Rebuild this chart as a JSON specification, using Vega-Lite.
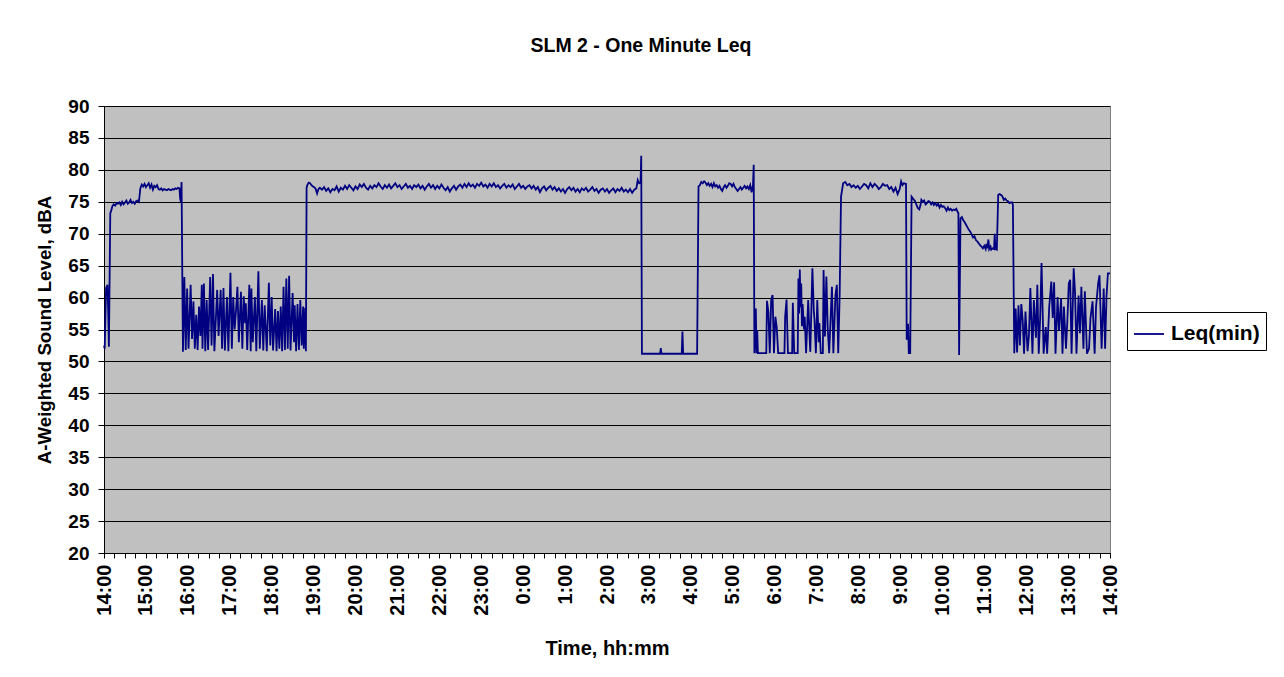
{
  "$schema": "https://vega.github.io/schema/vega-lite/v6.json",
  "width": 1006,
  "height": 447,
  "autosize": {"type": "none"},
  "padding": {"left": 104, "top": 106, "right": 174, "bottom": 124},
  "background": "white",
  "title": {"text": "SLM 2 - One Minute Leq", "font": "Liberation Sans", "fontSize": 19.5, "fontWeight": "bold", "color": "black", "anchor": "middle", "frame": "group", "offset": 41, "dx": 34},
  "config": {"view": {"fill": "#C0C0C0", "stroke": "#808080", "strokeWidth": 1}, "font": "Liberation Sans"},
  "data": {"values": [
    {"min":0,"leq":52.5},{"min":1,"leq":52},{"min":3,"leq":61.5},{"min":5,"leq":62},{"min":6,"leq":58},{"min":7,"leq":52.3},{"min":9,"leq":73.2},
    {"min":10,"leq":73.5},{"min":12,"leq":74.3},{"min":14,"leq":74.6},{"min":16,"leq":74.4},{"min":18,"leq":74.8},{"min":20,"leq":74.7},{"min":22,"leq":74.9},{"min":24,"leq":74.5},{"min":26,"leq":75.0},{"min":28,"leq":74.6},{"min":30,"leq":74.9},{"min":32,"leq":75.2},{"min":34,"leq":74.7},{"min":36,"leq":74.9},{"min":38,"leq":75.3},{"min":40,"leq":74.8},{"min":42,"leq":75.0},{"min":44,"leq":74.7},{"min":46,"leq":75.1},{"min":48,"leq":75.2},{"min":50,"leq":75.0},
    {"min":52,"leq":77.1},{"min":54,"leq":77.7},{"min":56,"leq":77.4},{"min":58,"leq":77.8},{"min":60,"leq":77.3},{"min":62,"leq":77.6},{"min":64,"leq":77.9},{"min":66,"leq":77.2},{"min":68,"leq":77.7},{"min":70,"leq":76.9},{"min":72,"leq":77.5},{"min":74,"leq":77.3},{"min":76,"leq":77.6},{"min":78,"leq":77.0},{"min":80,"leq":76.9},{"min":82,"leq":77.1},{"min":84,"leq":76.8},{"min":86,"leq":77.0},{"min":88,"leq":76.9},{"min":90,"leq":76.8},{"min":92,"leq":77.0},{"min":94,"leq":76.9},{"min":96,"leq":76.8},{"min":98,"leq":77.0},{"min":100,"leq":76.9},{"min":102,"leq":77.1},{"min":104,"leq":77.0},{"min":106,"leq":77.2},{"min":108,"leq":77.1},{"min":109,"leq":75.5},{"min":110,"leq":75.0},{"min":111,"leq":78.1},
    {"min":113,"leq":51.5},{"min":115,"leq":63.2},{"min":117,"leq":51.8},{"min":119,"leq":61.4},{"min":121,"leq":52},{"min":124,"leq":62},{"min":126,"leq":53.5},{"min":128,"leq":59.4},{"min":130,"leq":52},{"min":132,"leq":57.3},{"min":134,"leq":51.8},{"min":136,"leq":58.6},{"min":138,"leq":54},{"min":140,"leq":62},{"min":141,"leq":52},{"min":143,"leq":62.2},{"min":145,"leq":51.6},{"min":147,"leq":59.6},{"min":149,"leq":51.8},{"min":152,"leq":63.2},{"min":154,"leq":52.5},{"min":156,"leq":63.7},{"min":158,"leq":51.6},{"min":162,"leq":61.2},{"min":164,"leq":54},{"min":167,"leq":61.2},{"min":169,"leq":52},{"min":171,"leq":61.5},{"min":173,"leq":51.7},{"min":176,"leq":60.1},{"min":178,"leq":51.6},{"min":181,"leq":63.9},{"min":183,"leq":52},{"min":185,"leq":60.1},{"min":187,"leq":55},{"min":189,"leq":58},{"min":191,"leq":61.7},{"min":193,"leq":53},{"min":196,"leq":60.9},{"min":198,"leq":52},{"min":200,"leq":60.2},{"min":202,"leq":56},{"min":203,"leq":59.1},{"min":205,"leq":51.8},{"min":208,"leq":62},{"min":210,"leq":51.6},{"min":211,"leq":61.4},{"min":213,"leq":53},{"min":216,"leq":60.1},{"min":218,"leq":51.6},{"min":221,"leq":64.1},{"min":223,"leq":52},{"min":226,"leq":59.6},{"min":228,"leq":51.7},{"min":230,"leq":58.8},{"min":233,"leq":51.6},{"min":236,"leq":62.3},{"min":238,"leq":52.5},{"min":240,"leq":60.1},{"min":242,"leq":51.7},{"min":245,"leq":58.2},{"min":247,"leq":51.6},{"min":249,"leq":57.9},{"min":251,"leq":52},{"min":253,"leq":58.6},{"min":255,"leq":51.6},{"min":257,"leq":61.7},{"min":259,"leq":51.8},{"min":261,"leq":63},{"min":263,"leq":52},{"min":265,"leq":63.4},{"min":267,"leq":51.7},{"min":270,"leq":60.7},{"min":272,"leq":53},{"min":273,"leq":58.8},{"min":275,"leq":51.6},{"min":277,"leq":59},{"min":279,"leq":51.8},{"min":281,"leq":59.6},{"min":283,"leq":52.5},{"min":285,"leq":58.6},{"min":286,"leq":52},{"min":288,"leq":58.4},{"min":289,"leq":51.6},
    {"min":290,"leq":77.2},{"min":291,"leq":77.6},{"min":293,"leq":78.0},{"min":295,"leq":77.9},{"min":297,"leq":77.6},{"min":299,"leq":77.4},{"min":301,"leq":77.3},{"min":303,"leq":77.0},{"min":305,"leq":76.3},{"min":307,"leq":77.0},{"min":309,"leq":77.2},{"min":312,"leq":76.9},{"min":315,"leq":77.3},{"min":318,"leq":76.7},{"min":321,"leq":77.1},{"min":324,"leq":76.5},{"min":327,"leq":77.0},{"min":330,"leq":76.8},{"min":333,"leq":77.4},{"min":336,"leq":76.6},{"min":339,"leq":77.2},{"min":342,"leq":76.9},{"min":345,"leq":77.5},{"min":348,"leq":77.0},{"min":351,"leq":77.6},{"min":354,"leq":77.2},{"min":357,"leq":76.8},{"min":360,"leq":77.4},{"min":363,"leq":77.0},{"min":366,"leq":77.7},{"min":369,"leq":77.3},{"min":372,"leq":77.8},{"min":375,"leq":77.2},{"min":378,"leq":76.9},{"min":381,"leq":77.5},{"min":384,"leq":77.1},{"min":387,"leq":77.6},{"min":390,"leq":77.3},{"min":393,"leq":77.9},{"min":396,"leq":77.4},{"min":399,"leq":77.0},{"min":402,"leq":77.6},{"min":405,"leq":77.2},{"min":408,"leq":77.7},{"min":411,"leq":77.1},{"min":414,"leq":77.5},{"min":417,"leq":77.9},{"min":420,"leq":77.3},{"min":423,"leq":77.6},{"min":426,"leq":77.0},{"min":429,"leq":77.4},{"min":432,"leq":77.8},{"min":435,"leq":77.2},{"min":438,"leq":77.5},{"min":441,"leq":77.0},{"min":444,"leq":77.6},{"min":447,"leq":77.3},{"min":450,"leq":77.7},{"min":453,"leq":77.1},{"min":456,"leq":77.5},{"min":459,"leq":76.9},{"min":462,"leq":77.4},{"min":465,"leq":77.8},{"min":468,"leq":77.2},{"min":471,"leq":77.6},{"min":474,"leq":77.0},{"min":477,"leq":77.5},{"min":480,"leq":77.1},{"min":483,"leq":77.7},{"min":486,"leq":77.2},{"min":489,"leq":76.8},{"min":492,"leq":77.3},{"min":495,"leq":76.6},{"min":498,"leq":77.1},{"min":501,"leq":77.5},{"min":504,"leq":76.9},{"min":507,"leq":77.4},{"min":510,"leq":77.7},{"min":513,"leq":77.2},{"min":516,"leq":77.8},{"min":519,"leq":77.3},{"min":522,"leq":77.9},{"min":525,"leq":77.4},{"min":528,"leq":77.7},{"min":531,"leq":77.2},{"min":534,"leq":77.8},{"min":537,"leq":77.5},{"min":540,"leq":78.0},{"min":543,"leq":77.4},{"min":546,"leq":77.7},{"min":549,"leq":77.2},{"min":552,"leq":77.8},{"min":555,"leq":77.4},{"min":558,"leq":77.9},{"min":561,"leq":77.3},{"min":564,"leq":77.6},{"min":567,"leq":77.1},{"min":570,"leq":77.5},{"min":573,"leq":77.8},{"min":576,"leq":77.2},{"min":579,"leq":77.6},{"min":582,"leq":77.3},{"min":585,"leq":77.7},{"min":588,"leq":77.0},{"min":591,"leq":77.4},{"min":594,"leq":77.8},{"min":597,"leq":77.2},{"min":600,"leq":77.5},{"min":603,"leq":77.0},{"min":606,"leq":77.4},{"min":609,"leq":77.6},{"min":612,"leq":77.1},{"min":615,"leq":77.5},{"min":618,"leq":76.9},{"min":621,"leq":77.3},{"min":624,"leq":76.5},{"min":627,"leq":77.1},{"min":630,"leq":77.4},{"min":633,"leq":76.8},{"min":636,"leq":77.2},{"min":639,"leq":77.5},{"min":642,"leq":76.9},{"min":645,"leq":77.3},{"min":648,"leq":76.7},{"min":651,"leq":77.1},{"min":654,"leq":76.6},{"min":657,"leq":77.0},{"min":660,"leq":76.4},{"min":663,"leq":77.0},{"min":666,"leq":77.3},{"min":669,"leq":76.8},{"min":672,"leq":77.2},{"min":675,"leq":76.6},{"min":678,"leq":77.0},{"min":681,"leq":76.5},{"min":684,"leq":77.1},{"min":687,"leq":76.8},{"min":690,"leq":77.2},{"min":693,"leq":76.6},{"min":696,"leq":76.9},{"min":699,"leq":77.3},{"min":702,"leq":76.7},{"min":705,"leq":77.0},{"min":708,"leq":76.4},{"min":711,"leq":76.9},{"min":714,"leq":77.1},{"min":717,"leq":76.6},{"min":720,"leq":77.0},{"min":723,"leq":76.4},{"min":726,"leq":76.8},{"min":729,"leq":77.1},{"min":732,"leq":76.5},{"min":735,"leq":77.0},{"min":738,"leq":76.7},{"min":741,"leq":77.2},{"min":744,"leq":76.6},{"min":747,"leq":76.9},{"min":750,"leq":76.5},{"min":753,"leq":77.0},{"min":756,"leq":76.4},{"min":759,"leq":76.9},{"min":762,"leq":77.1},{"min":764,"leq":78.4},{"min":766,"leq":77.9},{"min":768,"leq":78.0},{"min":769,"leq":82.2},
    {"min":770,"leq":51.2},{"min":796,"leq":51.2},{"min":797,"leq":52.1},{"min":798,"leq":51.2},{"min":827,"leq":51.2},{"min":828,"leq":54.7},{"min":829,"leq":51.2},{"min":849,"leq":51.2},
    {"min":851,"leq":77.4},{"min":853,"leq":77.6},{"min":855,"leq":78.1},{"min":857,"leq":77.9},{"min":859,"leq":78.2},{"min":861,"leq":78.0},{"min":863,"leq":77.6},{"min":865,"leq":77.9},{"min":867,"leq":77.5},{"min":869,"leq":77.8},{"min":871,"leq":77.3},{"min":873,"leq":77.9},{"min":875,"leq":77.4},{"min":877,"leq":77.6},{"min":879,"leq":77.2},{"min":881,"leq":77.5},{"min":883,"leq":77.0},{"min":885,"leq":76.7},{"min":887,"leq":77.3},{"min":889,"leq":77.6},{"min":891,"leq":77.2},{"min":893,"leq":77.5},{"min":895,"leq":77.9},{"min":897,"leq":77.8},{"min":899,"leq":77.4},{"min":901,"leq":77.8},{"min":903,"leq":77.3},{"min":905,"leq":77.0},{"min":907,"leq":76.7},{"min":909,"leq":77.0},{"min":911,"leq":77.3},{"min":913,"leq":76.9},{"min":915,"leq":77.2},{"min":917,"leq":77.5},{"min":919,"leq":77.1},{"min":921,"leq":77.4},{"min":923,"leq":77.0},{"min":925,"leq":77.6},{"min":927,"leq":76.5},{"min":929,"leq":77.6},{"min":930,"leq":80.8},
    {"min":931,"leq":51.3},{"min":933,"leq":58.3},{"min":934,"leq":51.3},{"min":935,"leq":54.9},{"min":936,"leq":51.3},{"min":948,"leq":51.3},{"min":949,"leq":59.5},{"min":951,"leq":57.8},{"min":953,"leq":51.3},{"min":955,"leq":59.6},{"min":957,"leq":60.4},{"min":959,"leq":51.3},{"min":961,"leq":57},{"min":963,"leq":55.3},{"min":965,"leq":51.3},{"min":974,"leq":51.3},{"min":975,"leq":57},{"min":977,"leq":59.7},{"min":979,"leq":51.3},{"min":985,"leq":51.3},{"min":986,"leq":59.2},{"min":988,"leq":51.3},{"min":993,"leq":51.3},{"min":994,"leq":63},{"min":995,"leq":57.5},{"min":996,"leq":64.4},{"min":997,"leq":58.5},{"min":998,"leq":62.2},{"min":999,"leq":55.5},{"min":1000,"leq":59},{"min":1002,"leq":55},{"min":1003,"leq":57},{"min":1005,"leq":51.3},{"min":1008,"leq":59.6},{"min":1010,"leq":53.9},{"min":1011,"leq":51.5},{"min":1014,"leq":64.6},{"min":1016,"leq":58},{"min":1017,"leq":56.5},{"min":1019,"leq":51.3},{"min":1021,"leq":59.6},{"min":1023,"leq":53},{"min":1024,"leq":56},{"min":1026,"leq":51.3},{"min":1029,"leq":51.3},{"min":1030,"leq":64.3},{"min":1032,"leq":53.9},{"min":1034,"leq":63.3},{"min":1036,"leq":55},{"min":1038,"leq":51.3},{"min":1042,"leq":61.7},{"min":1044,"leq":51.3},{"min":1047,"leq":60.4},{"min":1049,"leq":62},{"min":1051,"leq":51.3},{"min":1053,"leq":60.2},{"min":1055,"leq":75.8},
    {"min":1058,"leq":77.9},{"min":1061,"leq":78.1},{"min":1064,"leq":77.6},{"min":1067,"leq":77.8},{"min":1070,"leq":77.3},{"min":1073,"leq":77.6},{"min":1076,"leq":77.2},{"min":1079,"leq":77.5},{"min":1082,"leq":77.0},{"min":1085,"leq":77.4},{"min":1088,"leq":77.8},{"min":1091,"leq":77.6},{"min":1094,"leq":77.1},{"min":1097,"leq":77.9},{"min":1100,"leq":77.3},{"min":1103,"leq":77.8},{"min":1106,"leq":77.5},{"min":1109,"leq":77.0},{"min":1112,"leq":77.3},{"min":1115,"leq":77.8},{"min":1118,"leq":77.5},{"min":1121,"leq":77.6},{"min":1124,"leq":77.0},{"min":1127,"leq":77.3},{"min":1130,"leq":76.6},{"min":1133,"leq":77.2},{"min":1136,"leq":76.2},{"min":1139,"leq":77.0},{"min":1141,"leq":78.2},{"min":1143,"leq":77.6},{"min":1145,"leq":77.9},{"min":1148,"leq":77.8},
    {"min":1149,"leq":53.4},{"min":1151,"leq":55.9},{"min":1152,"leq":51.3},{"min":1154,"leq":51.3},{"min":1156,"leq":75.8},
    {"min":1158,"leq":75.5},{"min":1161,"leq":75.1},{"min":1163,"leq":74.5},{"min":1165,"leq":74.0},{"min":1167,"leq":73.8},{"min":1169,"leq":74.6},{"min":1170,"leq":75.3},{"min":1172,"leq":75.0},{"min":1174,"leq":75.2},{"min":1176,"leq":74.6},{"min":1178,"leq":74.8},{"min":1180,"leq":75.1},{"min":1182,"leq":75.0},{"min":1184,"leq":74.6},{"min":1186,"leq":74.9},{"min":1188,"leq":74.5},{"min":1190,"leq":74.8},{"min":1192,"leq":74.4},{"min":1194,"leq":74.7},{"min":1196,"leq":74.1},{"min":1198,"leq":74.5},{"min":1200,"leq":74.2},{"min":1202,"leq":74.3},{"min":1204,"leq":74.0},{"min":1206,"leq":73.6},{"min":1208,"leq":74.1},{"min":1210,"leq":73.7},{"min":1212,"leq":73.9},{"min":1214,"leq":73.6},{"min":1216,"leq":73.8},{"min":1218,"leq":73.7},{"min":1220,"leq":73.9},{"min":1222,"leq":73.4},{"min":1223,"leq":73.2},{"min":1224,"leq":51.0},{"min":1226,"leq":72.4},{"min":1228,"leq":72.6},{"min":1230,"leq":72.1},{"min":1232,"leq":71.8},{"min":1234,"leq":71.4},{"min":1236,"leq":71.0},{"min":1238,"leq":70.6},{"min":1240,"leq":70.3},{"min":1242,"leq":69.9},{"min":1244,"leq":69.4},{"min":1246,"leq":69.6},{"min":1248,"leq":69.0},{"min":1250,"leq":68.8},{"min":1252,"leq":68.5},{"min":1254,"leq":68.2},{"min":1256,"leq":68.0},{"min":1258,"leq":67.7},{"min":1260,"leq":68.1},{"min":1262,"leq":67.6},{"min":1263,"leq":68.4},{"min":1264,"leq":67.7},{"min":1266,"leq":69.1},{"min":1267,"leq":67.6},{"min":1269,"leq":68.0},{"min":1270,"leq":67.5},{"min":1272,"leq":67.7},{"min":1274,"leq":67.6},{"min":1275,"leq":70.0},{"min":1276,"leq":67.6},{"min":1278,"leq":67.5},{"min":1280,"leq":76.1},{"min":1282,"leq":76.2},{"min":1285,"leq":76.0},{"min":1287,"leq":75.6},{"min":1288,"leq":75.3},{"min":1290,"leq":75.5},{"min":1292,"leq":75.2},{"min":1294,"leq":75.1},{"min":1296,"leq":74.8},{"min":1298,"leq":74.9},{"min":1300,"leq":74.9},{"min":1301,"leq":74.5},
    {"min":1303,"leq":51.3},{"min":1305,"leq":58.3},{"min":1307,"leq":51.4},{"min":1309,"leq":58.8},{"min":1311,"leq":52.5},{"min":1313,"leq":59},{"min":1315,"leq":56.5},{"min":1317,"leq":51.2},{"min":1319,"leq":57.8},{"min":1322,"leq":51.6},{"min":1324,"leq":54.1},{"min":1326,"leq":61.5},{"min":1329,"leq":51.2},{"min":1331,"leq":59.6},{"min":1334,"leq":53.7},{"min":1336,"leq":62},{"min":1338,"leq":51.2},{"min":1340,"leq":56.7},{"min":1342,"leq":65.4},{"min":1345,"leq":51.2},{"min":1348,"leq":55.4},{"min":1350,"leq":51.2},{"min":1353,"leq":58.5},{"min":1356,"leq":62.5},{"min":1358,"leq":56.8},{"min":1360,"leq":62.4},{"min":1362,"leq":51.2},{"min":1365,"leq":60.1},{"min":1367,"leq":54.8},{"min":1370,"leq":59.9},{"min":1372,"leq":51.2},{"min":1374,"leq":58.6},{"min":1377,"leq":52},{"min":1379,"leq":56.5},{"min":1381,"leq":62.2},{"min":1383,"leq":62.8},{"min":1385,"leq":51.2},{"min":1388,"leq":64.6},{"min":1390,"leq":60.7},{"min":1392,"leq":51.2},{"min":1395,"leq":60.3},{"min":1397,"leq":54.4},{"min":1399,"leq":61.7},{"min":1402,"leq":52},{"min":1404,"leq":61},{"min":1407,"leq":51.2},{"min":1410,"leq":52},{"min":1412,"leq":56.7},{"min":1415,"leq":59.4},{"min":1418,"leq":51.2},{"min":1420,"leq":58.5},{"min":1423,"leq":62.2},{"min":1425,"leq":63.5},{"min":1428,"leq":52},{"min":1431,"leq":61.4},{"min":1433,"leq":52},{"min":1435,"leq":60.2},{"min":1437,"leq":63.8},{"min":1440,"leq":63.8}
  ]},
  "mark": {"type": "line", "strokeWidth": 1.8, "interpolate": "linear"},
  "encoding": {
    "x": {
      "field": "min", "type": "quantitative",
      "scale": {"domain": [0, 1440], "nice": false, "zero": false},
      "axis": {
        "values": [0,15,30,45,60,75,90,105,120,135,150,165,180,195,210,225,240,255,270,285,300,315,330,345,360,375,390,405,420,435,450,465,480,495,510,525,540,555,570,585,600,615,630,645,660,675,690,705,720,735,750,765,780,795,810,825,840,855,870,885,900,915,930,945,960,975,990,1005,1020,1035,1050,1065,1080,1095,1110,1125,1140,1155,1170,1185,1200,1215,1230,1245,1260,1275,1290,1305,1320,1335,1350,1365,1380,1395,1410,1425,1440],
        "labelExpr": "datum.value % 60 === 0 ? ((14 + datum.value / 60) % 24) + ':00' : ''",
        "labelAngle": 270,
        "labelFont": "Liberation Sans", "labelFontSize": 20, "labelFontWeight": "bold", "labelColor": "black",
        "labelOverlap": false, "labelFlush": false, "labelBound": false, "labelPadding": 6,
        "tickSize": 5, "tickColor": "black", "tickWidth": 1,
        "domainColor": "black", "domainWidth": 1, "grid": false,
        "title": "Time, hh:mm", "titleFont": "Liberation Sans", "titleFontSize": 20, "titleFontWeight": "bold", "titleColor": "black", "titlePadding": 23
      }
    },
    "y": {
      "field": "leq", "type": "quantitative",
      "scale": {"domain": [20, 90], "nice": false, "zero": false},
      "axis": {
        "values": [20,25,30,35,40,45,50,55,60,65,70,75,80,85,90],
        "labelFont": "Liberation Sans", "labelFontSize": 19, "labelFontWeight": "bold", "labelColor": "black", "labelPadding": 9,
        "tickSize": 6, "tickColor": "black", "tickWidth": 1,
        "domainColor": "black", "domainWidth": 1,
        "grid": true, "gridColor": "black", "gridWidth": 1, "gridOpacity": 1,
        "title": "A-Weighted Sound Level, dBA", "titleFont": "Liberation Sans", "titleFontSize": 18.7, "titleFontWeight": "bold", "titleColor": "black", "titlePadding": 13
      }
    },
    "color": {
      "datum": "Leq(min)", "type": "nominal",
      "scale": {"range": ["#000080"]},
      "legend": {
        "title": null, "orient": "none", "legendX": 1023, "legendY": 206,
        "strokeColor": "black", "fillColor": "white", "padding": 6,
        "symbolType": "stroke", "symbolSize": 900, "symbolStrokeWidth": 1.8,
        "labelFont": "Liberation Sans", "labelFontSize": 21, "labelFontWeight": "bold", "labelColor": "black", "labelOffset": 6
      }
    }
  }
}
